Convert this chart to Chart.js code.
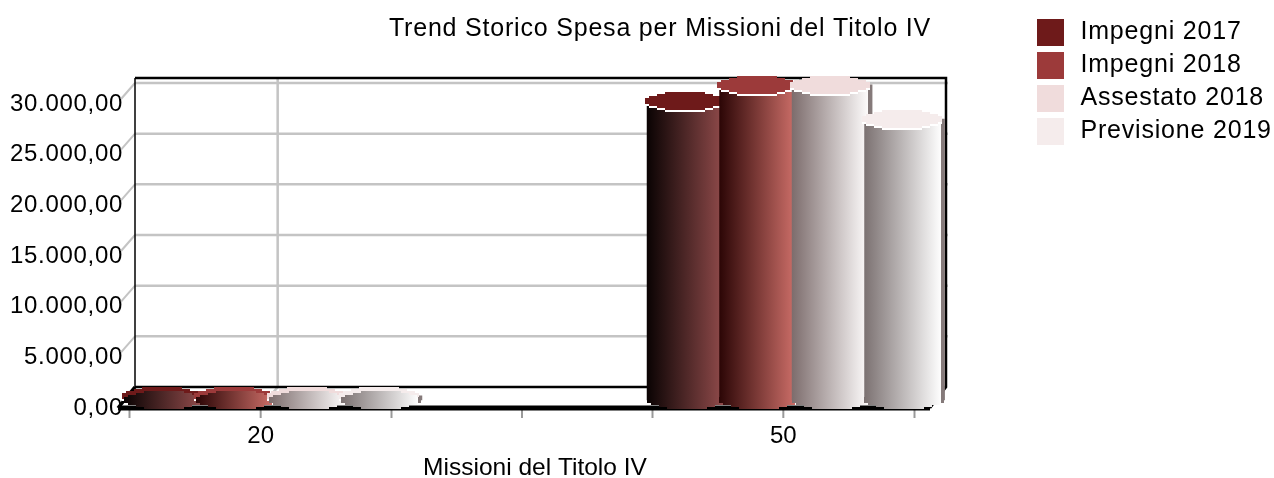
<!DOCTYPE html>
<html><head><meta charset="utf-8">
<style>html,body{margin:0;padding:0;background:#fff}#w{width:1274px;height:478px}</style>
<script src="https://cdn.jsdelivr.net/npm/chart.js@4/dist/chart.umd.min.js"></script>
</head><body><div id="w"><canvas id="c" width="1274" height="478"></canvas></div>
<script>
const chartTitle = 'Trend Storico Spesa per Missioni del Titolo IV';
const axisTitle = 'Missioni del Titolo IV';
const categories = ['20', '', '50'];
const seriesNames = ['Impegni 2017', 'Impegni 2018', 'Assestato 2018', 'Previsione 2019'];
const impegni2017 = [400, null, 29500];
const impegni2018 = [400, null, 31090];
const assestato2018 = [400, null, 31090];
const previsione2019 = [400, null, 27730];
const yTickValues = [0, 5000, 10000, 15000, 20000, 25000, 30000];
const capColors = ['#6e1a1a', '#9c3a3a', '#f0dcdc', '#f5ecec'];
const bodyStops = [
  ['#0a0303', '#8f4a4a'],
  ['#2c0606', '#cc6e68'],
  ['#7d6d6d', '#fdfbfb'],
  ['#7c7272', '#fdfdfd']
];
const FAMILY = '"Liberation Sans", Arial, sans-serif';
const FONT = {family: FAMILY, size: 25};
const BAR_STEP = 72.5, BAR_OFFX = 9, BAR_OFFY = -8;

function bodyGradient(context) {
  const chart = context.chart, x = chart.scales.x;
  if (!x || context.dataIndex === undefined) return capColors[context.datasetIndex];
  const cx = x.getPixelForValue(context.dataIndex) + (context.datasetIndex - 1.5) * BAR_STEP;
  const g = chart.ctx.createLinearGradient(cx - 36.5, 0, cx + 43.5, 0);
  const s = bodyStops[context.datasetIndex];
  g.addColorStop(0, s[0]);
  g.addColorStop(0.95, s[1]);
  g.addColorStop(0.955, '#857a7a');
  g.addColorStop(1, '#857a7a');
  return g;
}
function stepped(ctx, cx, cy, a, b, step) {
  cx = Math.round(cx); cy = Math.round(cy);
  for (let y = -b; y < b; y += step) {
    const m = y + step / 2;
    const w = Math.round(a * Math.sqrt(Math.max(0, 1 - (m / b) * (m / b))) / 4) * 4;
    ctx.fillRect(cx - w, cy + y, 2 * w, step);
  }
}
function spaced(obj, name, px, dx) {
  const d = obj[name];
  obj[name] = function () {
    const c = this.ctx; c.save(); c.letterSpacing = px; if (dx) c.translate(dx, 0);
    d.apply(this, arguments); c.restore();
  };
}
const scene = {
  id: 'scene',
  beforeLayout(chart) {
    const l = chart.legend;
    if (l && !l._wrapped) {
      const f = l.fit;
      l.fit = function () { f.call(this); this.width = 360; };
      l._wrapped = true;
    }
  },
  afterLayout(chart) {
    const l = chart.legend;
    const w = l.width, h = l.height;
    l.left = 1031; l.right = l.left + w; l.top = 13; l.bottom = l.top + h;
    const t = chart.titleBlock;
    t.left = 23; t.right = 1274 + 23;
    const sx = chart.scales.x, sy = chart.scales.y;
    if (!sx._wrapped) {
      spaced(sx, 'drawTitle', '0px', 13);
      spaced(sx, 'drawLabels', '0px', 0);
      spaced(sy, 'drawLabels', '0.7px', 0);
      sx._wrapped = true;
    }
  },
  beforeDraw(chart) { chart.ctx.letterSpacing = '0.8px'; },
  beforeDatasetsDraw(chart) {
    const ctx = chart.ctx, a = chart.chartArea, sx = chart.scales.x, sy = chart.scales.y;
    const bx0 = a.left + 5, bx1 = a.right + 32, dy = -21;
    const fx0 = a.left - 12, fx1 = a.right + 16;
    const top = a.top + dy, floor = a.bottom + dy;
    ctx.save();
    // gray gridlines on the back wall and side
    ctx.strokeStyle = '#c4c4c4';
    sy.ticks.forEach(t => {
      const y = sy.getPixelForValue(t.value) + dy;
      if (t.value === 0) return;
      ctx.lineWidth = 2.5;
      ctx.beginPath(); ctx.moveTo(bx0, y); ctx.lineTo(bx1 + 2, y); ctx.stroke();
      ctx.lineWidth = 2;
      ctx.beginPath(); ctx.moveTo(bx0, y); ctx.lineTo(bx0 - 14, y + 16); ctx.stroke();
    });
    ctx.lineWidth = 2.5;
    categories.forEach((c, i) => {
      if (!c) return;
      const x = sx.getPixelForTick(i) + 17;
      ctx.beginPath(); ctx.moveTo(x, top); ctx.lineTo(x, floor);
      ctx.lineTo(x - 17, a.bottom); ctx.stroke();
    });
    // centre tick marks between the boundary ticks drawn by the axis
    ctx.strokeStyle = '#9a9a9a'; ctx.lineWidth = 2;
    sx.ticks.forEach((t, i) => {
      const x = sx.getPixelForValue(i);
      ctx.beginPath(); ctx.moveTo(x, a.bottom); ctx.lineTo(x, a.bottom + 10); ctx.stroke();
    });
    // black frame
    ctx.strokeStyle = '#000'; ctx.lineWidth = 1.5;
    ctx.beginPath();
    ctx.moveTo(bx0, floor); ctx.lineTo(bx0, top);
    ctx.stroke();
    ctx.lineWidth = 2.5;
    ctx.beginPath();
    ctx.moveTo(bx0, top); ctx.lineTo(bx1, top); ctx.lineTo(bx1, floor); ctx.lineTo(fx1, a.bottom);
    ctx.stroke();
    ctx.beginPath(); ctx.moveTo(bx0, floor); ctx.lineTo(bx1, floor); ctx.stroke();
    ctx.lineWidth = 3.5;
    ctx.beginPath(); ctx.moveTo(bx0, floor); ctx.lineTo(fx0, a.bottom); ctx.stroke();
    ctx.lineWidth = 5;
    ctx.beginPath(); ctx.moveTo(fx0, a.bottom); ctx.lineTo(fx1, a.bottom); ctx.stroke();
    // bars, in series order, each later series over the earlier one
    ctx.translate(BAR_OFFX, BAR_OFFY);
    const base = sy.getPixelForValue(0);
    chart.data.datasets.forEach((ds, di) => {
      const meta = chart.getDatasetMeta(di);
      meta.data.forEach((el, i) => {
        if (ds.data[i] === null) return;
        const x = el.x, w = el.width;
        el.x = x + 3.5; el.width = 80;
        el.draw(ctx);
        el.x = x; el.width = w;
        const grad = el.options.backgroundColor;
        ctx.fillStyle = '#fff';
        stepped(ctx, x + 1, el.y + 2, 40, 9, 2);
        ctx.fillStyle = capColors[di];
        stepped(ctx, x + 1, el.y, 40, 9, 2);
        ctx.fillStyle = grad;
        stepped(ctx, x + 3, base, 40, 9, 2);
      });
    });
    ctx.restore();
    return false;
  }
};
const series = [impegni2017, impegni2018, assestato2018, previsione2019];
new Chart(document.getElementById('c'), {
  type: 'bar',
  data: {
    labels: categories,
    datasets: seriesNames.map((n, i) => ({
      label: n, data: series[i], backgroundColor: bodyGradient, borderWidth: 0, barThickness: BAR_STEP
    }))
  },
  options: {
    responsive: false, animation: false, events: [],
    layout: {padding: 0},
    scales: {
      x: {
        afterFit: s => { s.height = 70; },
        grid: {display: true, offset: true, drawOnChartArea: false, drawTicks: true, tickLength: 10, color: '#9a9a9a', tickWidth: 2},
        border: {display: false},
        ticks: {font: {family: FAMILY, size: 24}, color: '#000', padding: 3.6, maxRotation: 0, autoSkip: false},
        title: {display: true, text: axisTitle, font: {family: FAMILY, size: 24.5}, color: '#000', padding: {top: 0, bottom: -5}}
      },
      y: {
        min: 0, max: 30500,
        afterFit: s => { s.width = 130; },
        afterBuildTicks: s => { s.ticks = yTickValues.map(v => ({value: v})); },
        grid: {display: false, drawTicks: false},
        border: {display: false},
        ticks: {
          font: {family: FAMILY, size: 24}, color: '#000', padding: 7,
          callback: v => v.toFixed(2).replace('.', ',').replace(/\B(?=(\d{3})+(?!\d))/g, '.')
        }
      }
    },
    plugins: {
      tooltip: {enabled: false},
      title: {display: true, text: chartTitle, font: {...FONT, weight: 'normal'}, color: '#000', padding: {top: 14, bottom: 54.93}},
      legend: {
        position: 'right', align: 'start',
        labels: {
          font: FONT, color: '#000', boxWidth: 31, boxHeight: 27, padding: 6,
          generateLabels(chart) {
            return seriesNames.map((n, i) => {
              const g = chart.ctx.createLinearGradient(1037, 0, 1068, 0);
              g.addColorStop(0, capColors[i]);
              g.addColorStop(27 / 31, capColors[i]);
              g.addColorStop(27 / 31, '#ffffff');
              g.addColorStop(1, '#ffffff');
              return {text: n, fillStyle: g, lineWidth: 0, strokeStyle: 'transparent', fontColor: '#000', hidden: false, datasetIndex: i};
            });
          }
        }
      }
    }
  },
  plugins: [scene]
});
</script></body></html>
